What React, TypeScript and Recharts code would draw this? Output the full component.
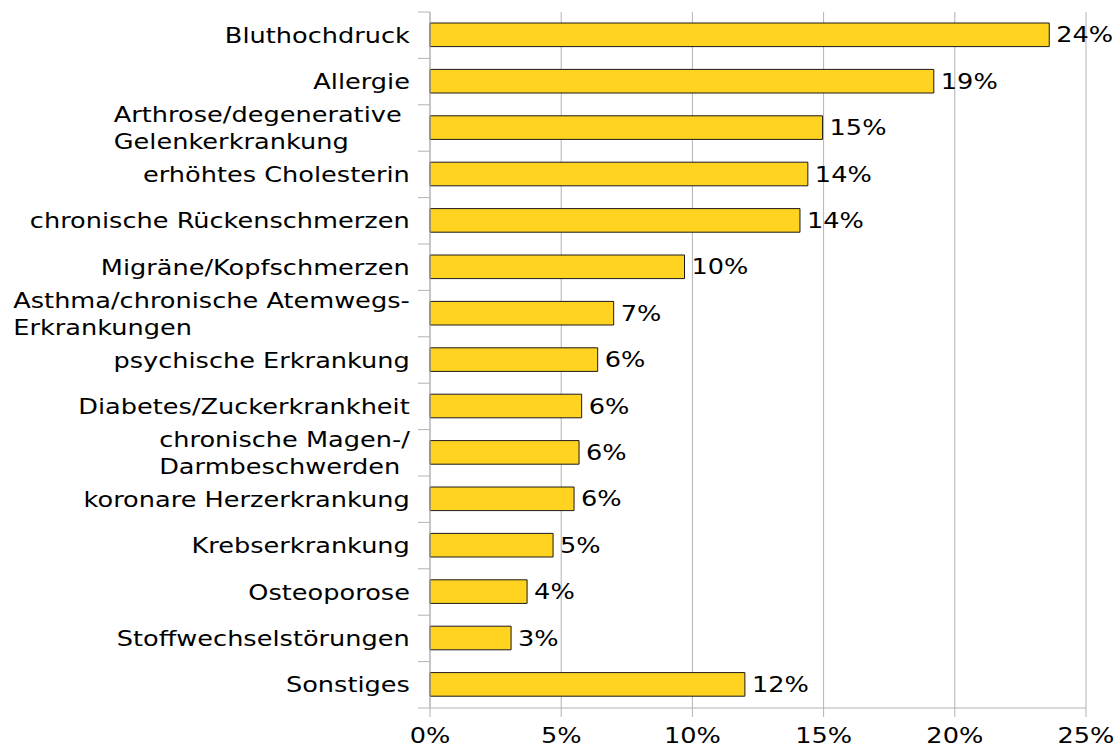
import React from 'react';
import { BarChart, Bar, XAxis, YAxis, CartesianGrid, LabelList } from 'recharts';

const names: string[] = [
  'Bluthochdruck',
  'Allergie',
  'Arthrose/degenerative \nGelenkerkrankung',
  'erhöhtes Cholesterin',
  'chronische Rückenschmerzen',
  'Migräne/Kopfschmerzen',
  'Asthma/chronische Atemwegs-\nErkrankungen',
  'psychische Erkrankung',
  'Diabetes/Zuckerkrankheit',
  'chronische Magen-/\nDarmbeschwerden ',
  'koronare Herzerkrankung',
  'Krebserkrankung',
  'Osteoporose',
  'Stoffwechselstörungen',
  'Sonstiges',
];

const values: number[] = [23.6, 19.2, 14.96, 14.4, 14.1, 9.7, 7.0, 6.39, 5.78, 5.68, 5.49, 4.69, 3.7, 3.09, 12.0];

const valueLabels: string[] = ['24%', '19%', '15%', '14%', '14%', '10%', '7%', '6%', '6%', '6%', '6%', '5%', '4%', '3%', '12%'];

const xTicks: number[] = [0, 5, 10, 15, 20, 25];

const data = names.map((name, i) => ({ name, value: values[i], label: valueLabels[i] }));

const W = 1118;
const H = 747;
const M = { top: 12, right: 32, bottom: 0, left: 0 };
const YAXIS_W = 430;
const XAXIS_H = 39;
const PLOT_H = H - M.top - M.bottom - XAXIS_H;
const BAND = PLOT_H / names.length;

const FONT = '"DejaVu Sans", sans-serif';
const FS = 21;
const SX = 1.22;
const CAP = 7.6;
const LINE_H = 27.3;
const GRID = '#b3b3b3';
const TEXT = '#000000';

let ctx: CanvasRenderingContext2D | null = null;
function textWidth(s: string): number {
  if (!ctx && typeof document !== 'undefined') {
    ctx = document.createElement('canvas').getContext('2d');
  }
  if (ctx) {
    ctx.font = `${FS}px "DejaVu Sans"`;
    return ctx.measureText(s).width;
  }
  return s.length * FS * 0.6;
}

function YTick(props: any) {
  const { x, y, payload, index } = props;
  const lines = String(payload.value).split('\n');
  const maxW = Math.max(...lines.map(textWidth));
  const half = BAND / 2;
  const n = lines.length;
  return (
    <g>
      <line x1={x - 12} x2={x} y1={y - half} y2={y - half} stroke={GRID} strokeWidth={1} />
      {index === names.length - 1 && (
        <line x1={x - 12} x2={x} y1={y + half} y2={y + half} stroke={GRID} strokeWidth={1} />
      )}
      <text
        transform={`translate(${x - 20}, ${y}) scale(${SX}, 1)`}
        fontFamily={FONT}
        fontSize={FS}
        fill={TEXT}
      >
        {lines.map((l, i) => (
          <tspan key={i} x={-maxW} y={CAP + (i - (n - 1) / 2) * LINE_H}>
            {l}
          </tspan>
        ))}
      </text>
    </g>
  );
}

function XTick(props: any) {
  const { x, y, payload } = props;
  return (
    <text
      transform={`translate(${x}, ${y + 26}) scale(${SX}, 1)`}
      textAnchor="middle"
      fontFamily={FONT}
      fontSize={FS}
      fill={TEXT}
    >
      {`${payload.value}%`}
    </text>
  );
}

function BarLabel(props: any) {
  const { x, y, width, height, value } = props;
  return (
    <text
      transform={`translate(${Number(x) + Number(width) + 7}, ${Number(y) + Number(height) / 2 + CAP}) scale(${SX}, 1)`}
      fontFamily={FONT}
      fontSize={FS}
      fill={TEXT}
    >
      {value}
    </text>
  );
}

export default function App() {
  return (
    <div style={{ position: 'absolute', left: 0, top: 0, background: '#fff' }}>
      <BarChart width={W} height={H} data={data} layout="vertical" margin={M} barSize={23.6}>
        <CartesianGrid horizontal={false} vertical={true} stroke={GRID} />
        <XAxis
          type="number"
          domain={[0, 25]}
          ticks={xTicks}
          height={XAXIS_H}
          tickSize={9}
          tickMargin={0}
          tickLine={{ stroke: GRID }}
          axisLine={{ stroke: GRID }}
          tick={<XTick />}
          interval={0}
        />
        <XAxis
          xAxisId="top"
          orientation="top"
          type="number"
          domain={[0, 25]}
          height={0}
          tick={false}
          tickLine={false}
          axisLine={{ stroke: GRID }}
        />
        <YAxis
          type="category"
          dataKey="name"
          width={YAXIS_W}
          tickSize={0}
          tickMargin={0}
          tickLine={false}
          axisLine={{ stroke: GRID }}
          tick={<YTick />}
          interval={0}
        />
        <Bar dataKey="value" fill="#FFD320" stroke="#1a1a1a" strokeWidth={1} isAnimationActive={false}>
          <LabelList dataKey="label" content={<BarLabel />} />
        </Bar>
      </BarChart>
    </div>
  );
}
